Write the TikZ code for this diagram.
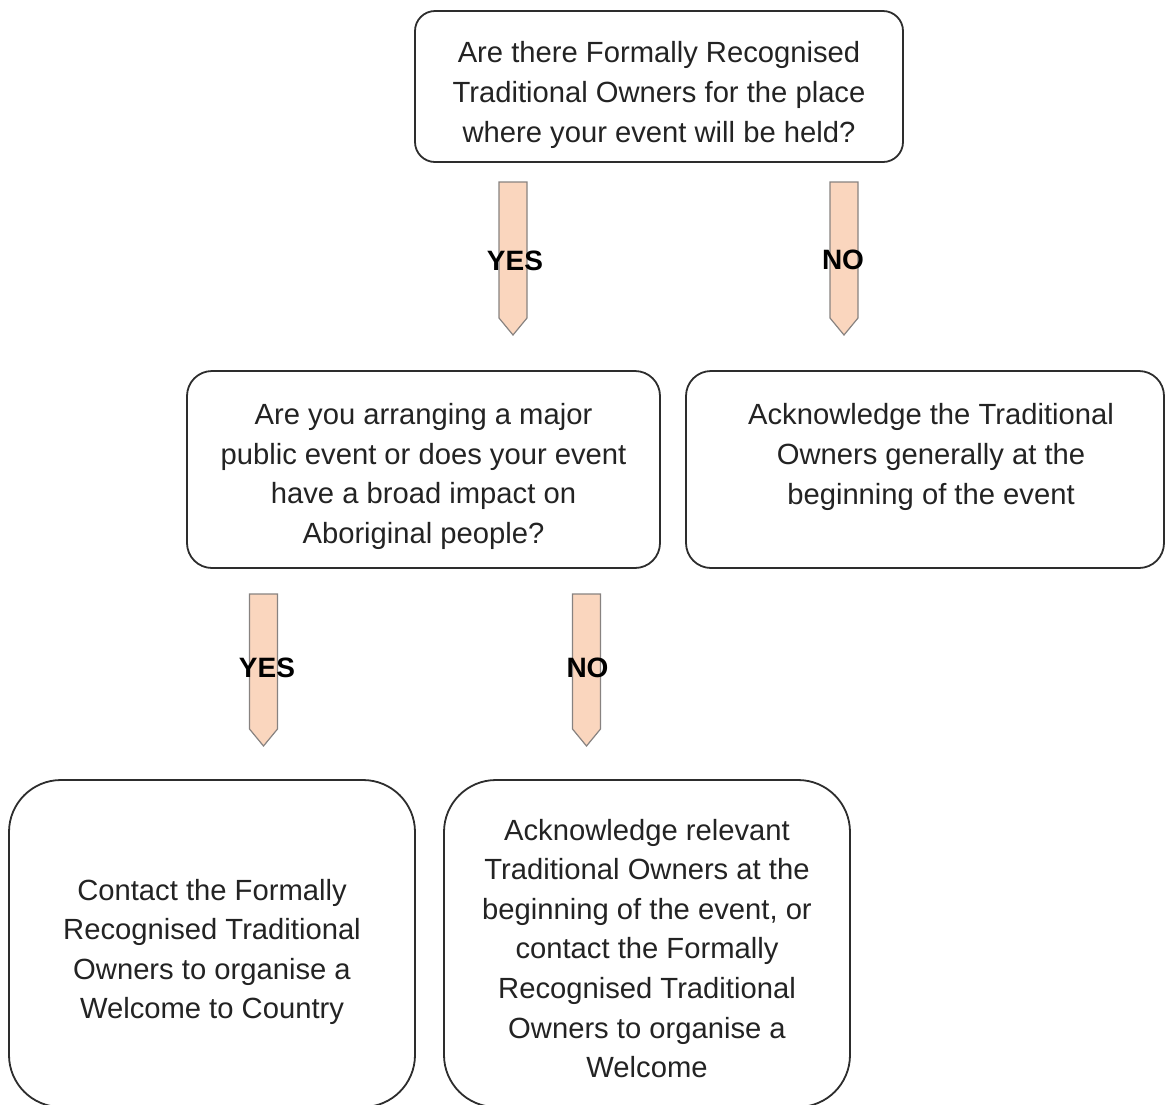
\documentclass[tikz,border=0pt]{standalone}
\usepackage{fontspec}
\setmainfont{Liberation Sans}
\usetikzlibrary{calc}
\definecolor{peach}{RGB}{250,214,190}
\definecolor{arrowline}{RGB}{135,130,128}
\definecolor{boxline}{RGB}{45,45,45}
\definecolor{txt}{RGB}{35,35,35}
\begin{document}
\begin{tikzpicture}[x=1pt,y=-1pt,
  box/.style={draw=boxline,line width=1.8pt,fill=white},
  boxtext/.style={align=center,text=txt,font=\fontsize{29.2}{39.6}\selectfont,inner sep=0pt},
  barrow/.style={draw=arrowline,line width=1.2pt,fill=peach,line join=miter},
  lbl/.style={font=\fontsize{28}{30}\bfseries\selectfont,text=black,inner sep=0pt}]
\useasboundingbox (0,0) rectangle (1165,1104);
\clip (0,0) rectangle (1165,1104);
% boxes
\draw[box,rounded corners=20pt] (415,11) rectangle (903,162);
\node[boxtext] (q1) at (659,95) {Are there Formally Recognised\\Traditional Owners for the place\\where your event will be held?};
\draw[box,rounded corners=25pt] (187,371) rectangle (660,568);
\node[boxtext] (q2) at (423.5,476.5) {Are you arranging a major\\public event or does your event\\have a broad impact on\\Aboriginal people?};
\draw[box,rounded corners=25pt] (686,371) rectangle (1164,568);
\node[boxtext] (a1) at (931,457) {Acknowledge the Traditional\\Owners generally at the\\beginning of the event};
\draw[box,rounded corners=52pt] (9,780) rectangle (415,1107);
\node[boxtext] (a2) at (212,952) {Contact the Formally\\Recognised Traditional\\Owners to organise a\\Welcome to Country};
\draw[box,rounded corners=52pt] (444,780) rectangle (850,1107);
\node[boxtext] (a3) at (647,948.5) {Acknowledge relevant\\Traditional Owners at the\\beginning of the event, or\\contact the Formally\\Recognised Traditional\\Owners to organise a\\Welcome};
% block arrows
\newcommand{\blockarrow}[2]{%
  \draw[barrow] ($(#1)+(-14,0)$) -- ($(#1)+(14,0)$) -- ($(#2)+(14,-17)$) -- (#2) -- ($(#2)+(-14,-17)$) -- cycle;}
\coordinate (y1s) at (513,182); \coordinate (y1e) at (513,335);
\coordinate (n1s) at (844,182); \coordinate (n1e) at (844,335);
\coordinate (y2s) at (263.5,594); \coordinate (y2e) at (263.5,746);
\coordinate (n2s) at (586.5,594); \coordinate (n2e) at (586.5,746);
\blockarrow{y1s}{y1e}
\blockarrow{n1s}{n1e}
\blockarrow{y2s}{y2e}
\blockarrow{n2s}{n2e}
\node[lbl] (ly1) at (515,261) {YES};
\node[lbl] (ln1) at (843,260) {NO};
\node[lbl] (ly2) at (267,668) {YES};
\node[lbl] (ln2) at (587.5,668) {NO};
\end{tikzpicture}
\end{document}
